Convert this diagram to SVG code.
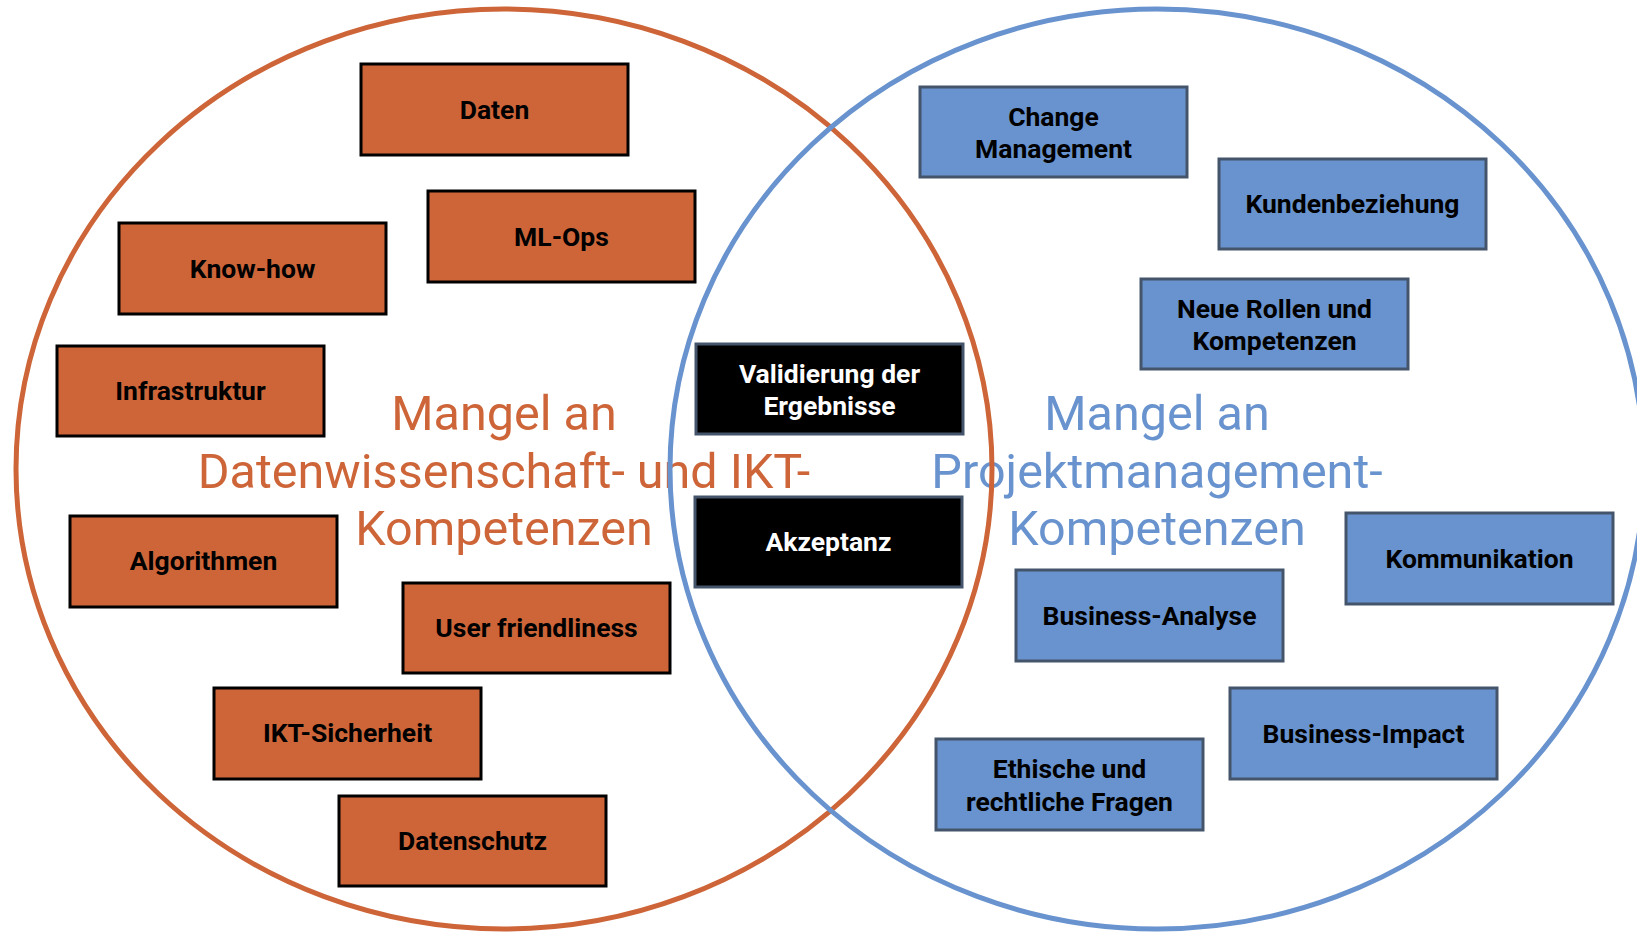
<svg xmlns="http://www.w3.org/2000/svg" width="1637" height="932" viewBox="0 0 1637 932">
<style>
.lbl{font-family:Roboto,"Liberation Sans",sans-serif;font-size:48.5px;text-anchor:middle}
.t{font-family:Roboto,"Liberation Sans",sans-serif;font-size:26.5px;font-weight:bold;text-anchor:middle;fill:#000}
.tw{font-family:Roboto,"Liberation Sans",sans-serif;font-size:26.5px;font-weight:bold;text-anchor:middle;fill:#fff}
.o{fill:#CD6539;stroke:#000;stroke-width:3}
.b{fill:#6893CE;stroke:#44546A;stroke-width:3}
.k{fill:#000;stroke:#44546A;stroke-width:3}
</style>
<rect width="1637" height="932" fill="#fff"/>
<g id="label-left">
<text class="lbl" fill="#CD6539" x="504" y="430">Mangel an</text>
<text class="lbl" fill="#CD6539" x="504" y="488">Datenwissenschaft- und IKT-</text>
<text class="lbl" fill="#CD6539" x="504" y="545">Kompetenzen</text>
</g>
<g id="label-right">
<text class="lbl" fill="#6893CE" x="1157" y="430">Mangel an</text>
<text class="lbl" fill="#6893CE" x="1157" y="488">Projektmanagement-</text>
<text class="lbl" fill="#6893CE" x="1157" y="545">Kompetenzen</text>
</g>
<g id="circles" fill="none" stroke-width="5">
<ellipse id="circle-left" cx="504" cy="469" rx="488" ry="460" stroke="#CD6539"/>
<ellipse id="circle-right" cx="1157" cy="469" rx="487" ry="460" stroke="#6893CE"/>
</g>
<g id="connectors"></g>
<g id="n-daten"><rect class="o" x="361" y="64" width="267" height="91"/><text class="t" x="494.5" y="119">Daten</text></g>
<g id="n-mlops"><rect class="o" x="428" y="191" width="267" height="91"/><text class="t" x="561.5" y="246">ML-Ops</text></g>
<g id="n-knowhow"><rect class="o" x="119" y="223" width="267" height="91"/><text class="t" x="252.5" y="278">Know-how</text></g>
<g id="n-infra"><rect class="o" x="57" y="346" width="267" height="90"/><text class="t" x="190.5" y="400">Infrastruktur</text></g>
<g id="n-algo"><rect class="o" x="70" y="516" width="267" height="91"/><text class="t" x="203.5" y="570">Algorithmen</text></g>
<g id="n-user"><rect class="o" x="403" y="583" width="267" height="90"/><text class="t" x="536.5" y="637">User friendliness</text></g>
<g id="n-ikt"><rect class="o" x="214" y="688" width="267" height="91"/><text class="t" x="347.5" y="742">IKT-Sicherheit</text></g>
<g id="n-datenschutz"><rect class="o" x="339" y="796" width="267" height="90"/><text class="t" x="472.5" y="850">Datenschutz</text></g>
<g id="n-validierung"><rect class="k" x="696" y="344" width="267" height="90"/><text class="tw" x="829.5" y="383">Validierung der</text><text class="tw" x="829.5" y="415">Ergebnisse</text></g>
<g id="n-akzeptanz"><rect class="k" x="695" y="497" width="267" height="90"/><text class="tw" x="828.5" y="551">Akzeptanz</text></g>
<g id="n-change"><rect class="b" x="920" y="87" width="267" height="90"/><text class="t" x="1053.5" y="126">Change</text><text class="t" x="1053.5" y="158">Management</text></g>
<g id="n-kunden"><rect class="b" x="1219" y="159" width="267" height="90"/><text class="t" x="1352.5" y="213">Kundenbeziehung</text></g>
<g id="n-rollen"><rect class="b" x="1141" y="279" width="267" height="90"/><text class="t" x="1274.5" y="318">Neue Rollen und</text><text class="t" x="1274.5" y="350">Kompetenzen</text></g>
<g id="n-kommunikation"><rect class="b" x="1346" y="513" width="267" height="91"/><text class="t" x="1479.5" y="568">Kommunikation</text></g>
<g id="n-analyse"><rect class="b" x="1016" y="570" width="267" height="91"/><text class="t" x="1149.5" y="625">Business-Analyse</text></g>
<g id="n-impact"><rect class="b" x="1230" y="688" width="267" height="91"/><text class="t" x="1363.5" y="743">Business-Impact</text></g>
<g id="n-ethik"><rect class="b" x="936" y="739" width="267" height="91"/><text class="t" x="1069.5" y="778">Ethische und</text><text class="t" x="1069.5" y="811">rechtliche Fragen</text></g>
</svg>
